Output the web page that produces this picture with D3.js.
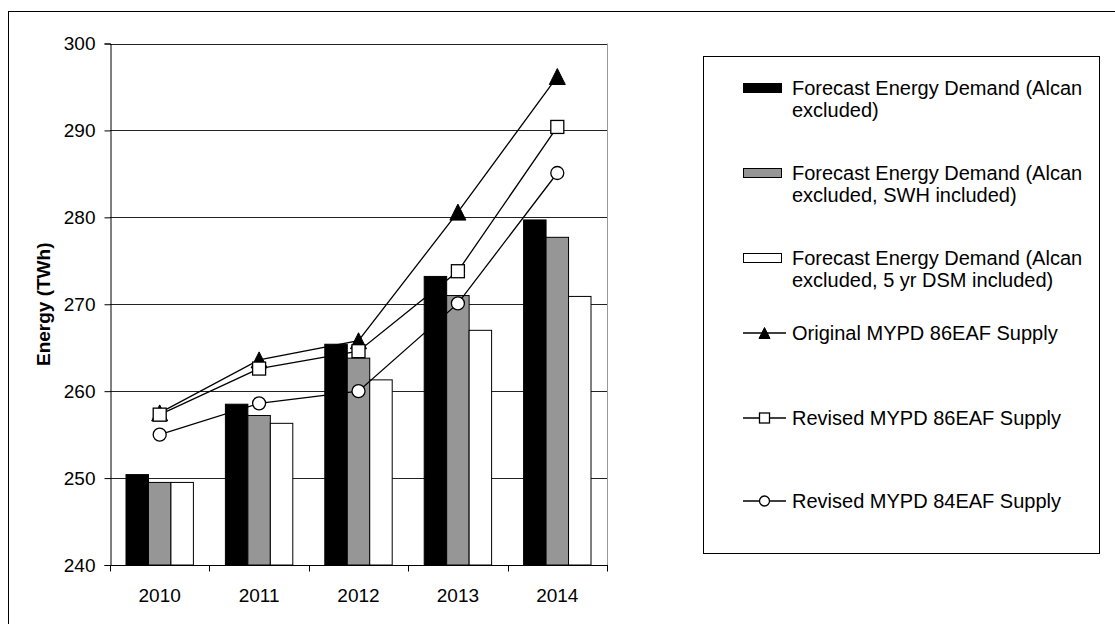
<!DOCTYPE html>
<html>
<head>
<meta charset="utf-8">
<script src="https://cdn.jsdelivr.net/npm/d3@7"></script>
<style>
  body { margin: 0; background: #fff; }
  svg text { font-family: "Liberation Sans", Arial, sans-serif; fill: #000; }
</style>
</head>
<body>
<script>
// chart data
var years = ["2010", "2011", "2012", "2013", "2014"];
var demand = [250.4, 258.5, 265.4, 273.2, 279.7];
var demandSWH = [249.5, 257.2, 263.8, 271.0, 277.7];
var demandDSM = [249.5, 256.3, 261.3, 267.0, 270.9];
var original86 = [257.5, 263.6, 265.8, 280.6, 296.2];
var revised86 = [257.3, 262.6, 264.6, 273.8, 290.4];
var revised84 = [255.0, 258.6, 260.0, 270.1, 285.1];
var yTicks = [240, 250, 260, 270, 280, 290, 300];

var barSeries = [
  { name: ["Forecast Energy Demand (Alcan", "excluded)"], values: demand, fill: "#000" },
  { name: ["Forecast Energy Demand (Alcan", "excluded, SWH included)"], values: demandSWH, fill: "#969696" },
  { name: ["Forecast Energy Demand (Alcan", "excluded, 5 yr DSM included)"], values: demandDSM, fill: "#fff" }
];
var lineSeries = [
  { name: "Original MYPD 86EAF Supply", values: original86, marker: "triangle" },
  { name: "Revised MYPD 86EAF Supply", values: revised86, marker: "square" },
  { name: "Revised MYPD 84EAF Supply", values: revised84, marker: "circle" }
];

var W = 1115, H = 624;
var plot = { left: 110, right: 607, top: 43.5, bottom: 565 };

var svg = d3.select("body").append("svg")
  .attr("width", W).attr("height", H);

// outer chart border (runs past the bottom/right edges)
svg.append("rect")
  .attr("x", 8.5).attr("y", 11.5)
  .attr("width", 1130).attr("height", 700)
  .attr("fill", "none").attr("stroke", "#000");

var x0 = d3.scaleBand().domain(years).range([plot.left, plot.right]).padding(0);
var gap = 16;
var x1 = d3.scaleBand().domain([0, 1, 2]).range([gap, x0.bandwidth() - gap]).padding(0);
var y = d3.scaleLinear().domain([240, 300]).range([plot.bottom, plot.top]);

// gridlines
svg.append("g").selectAll("line")
  .data(yTicks.slice(1)).enter()
  .append("line")
  .attr("x1", plot.left).attr("x2", plot.right)
  .attr("y1", function(d) { return Math.round(y(d)) + 0.5; })
  .attr("y2", function(d) { return Math.round(y(d)) + 0.5; })
  .attr("stroke", "#222").attr("stroke-width", 1);

// plot area right edge
svg.append("line")
  .attr("x1", plot.right + 0.5).attr("x2", plot.right + 0.5)
  .attr("y1", y(300)).attr("y2", plot.bottom)
  .attr("stroke", "#999");

// bars
var groups = svg.append("g").selectAll("g")
  .data(barSeries).enter().append("g");
groups.selectAll("rect")
  .data(function(s, si) {
    return s.values.map(function(v, i) { return { v: v, i: i, si: si, fill: s.fill }; });
  }).enter()
  .append("rect")
  .attr("x", function(d) { return x0(years[d.i]) + x1(d.si); })
  .attr("y", function(d) { return y(d.v); })
  .attr("width", x1.bandwidth())
  .attr("height", function(d) { return plot.bottom - y(d.v); })
  .attr("fill", function(d) { return d.fill; })
  .attr("stroke", "#000").attr("stroke-width", 1);

// y axis
var yAxis = d3.axisLeft(y).tickValues(yTicks).tickSize(6).tickPadding(9).tickFormat(d3.format("d"));
var gy = svg.append("g").attr("transform", "translate(" + (plot.left + 0.5) + ",0)").call(yAxis);
gy.select(".domain").attr("stroke", "#000");
gy.selectAll("text").style("font-size", "19px");

// x axis: ticks between categories
var gx = svg.append("g").attr("transform", "translate(0," + (plot.bottom + 0.5) + ")");
gx.append("line").attr("x1", plot.left).attr("x2", plot.right + 1).attr("stroke", "#000");
var bounds = years.map(function(d) { return x0(d); }).concat([plot.right]);
gx.selectAll("line.tk").data(bounds).enter().append("line")
  .attr("class", "tk")
  .attr("x1", function(d) { return Math.round(d) + 0.5; })
  .attr("x2", function(d) { return Math.round(d) + 0.5; })
  .attr("y1", 0).attr("y2", 6).attr("stroke", "#000");
gx.selectAll("text").data(years).enter().append("text")
  .attr("x", function(d) { return x0(d) + x0.bandwidth() / 2; })
  .attr("y", 36)
  .attr("text-anchor", "middle")
  .style("font-size", "19px")
  .text(function(d) { return d; });

// y label
svg.append("text")
  .attr("transform", "translate(50," + ((plot.top + plot.bottom) / 2) + ") rotate(-90)")
  .attr("text-anchor", "middle")
  .style("font-size", "19px").style("font-weight", "bold")
  .text("Energy (TWh)");

// markers
function drawMarker(g, type, cx, cy, s) {
  if (type == "triangle") {
    var h = s;
    g.append("path")
      .attr("d", "M" + cx + "," + (cy - h / 2) + "L" + (cx + s / 2) + "," + (cy + h / 2) + "L" + (cx - s / 2) + "," + (cy + h / 2) + "Z")
      .attr("fill", "#000").attr("stroke", "#000");
  } else if (type == "square") {
    g.append("rect")
      .attr("x", cx - s / 2).attr("y", cy - s / 2)
      .attr("width", s).attr("height", s)
      .attr("fill", "#fff").attr("stroke", "#000").attr("stroke-width", 1.3);
  } else {
    g.append("circle")
      .attr("cx", cx).attr("cy", cy).attr("r", s / 2)
      .attr("fill", "#fff").attr("stroke", "#000").attr("stroke-width", 1.3);
  }
}

var cx = function(i) { return x0(years[i]) + x0.bandwidth() / 2; };
var line = d3.line().x(function(d, i) { return cx(i); }).y(function(d) { return y(d); });
var markerSize = { triangle: 16, square: 13, circle: 13 };

lineSeries.forEach(function(s) {
  var g = svg.append("g");
  g.append("path").attr("d", line(s.values))
    .attr("fill", "none").attr("stroke", "#000").attr("stroke-width", 1.3);
  s.values.forEach(function(v, i) {
    drawMarker(g, s.marker, cx(i), y(v), markerSize[s.marker]);
  });
});

// legend
var lg = svg.append("g");
lg.append("rect")
  .attr("x", 703.5).attr("y", 56.5).attr("width", 396).attr("height", 497)
  .attr("fill", "#fff").attr("stroke", "#000");

var rowY = [88, 173, 258, 333, 418, 501];
barSeries.forEach(function(s, i) {
  lg.append("rect")
    .attr("x", 743.5).attr("y", rowY[i] - 4.5).attr("width", 38).attr("height", 9)
    .attr("fill", s.fill).attr("stroke", "#000");
  var t = lg.append("text").attr("x", 792).attr("y", rowY[i]).style("font-size", "20px");
  s.name.forEach(function(ln, k) {
    t.append("tspan").attr("x", 792).attr("dy", k == 0 ? "0.35em" : 22).text(ln);
  });
});
lineSeries.forEach(function(s, i) {
  var ry = rowY[i + 3];
  lg.append("line").attr("x1", 743).attr("x2", 786).attr("y1", ry).attr("y2", ry)
    .attr("stroke", "#000").attr("stroke-width", 1.3);
  drawMarker(lg, s.marker, 764.5, ry, s.marker == "triangle" ? 11 : 10);
  lg.append("text").attr("x", 792).attr("y", ry).attr("dy", "0.35em")
    .style("font-size", "20px").text(s.name);
});
</script>
</body>
</html>
